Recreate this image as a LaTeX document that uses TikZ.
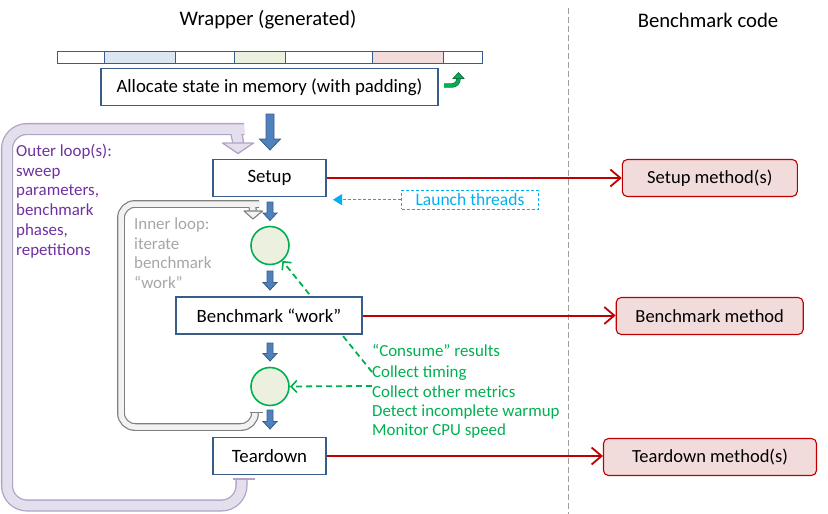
\documentclass[tikz,border=0pt]{standalone}
\usepackage{fontspec}
\setmainfont{Carlito}
\usetikzlibrary{arrows.meta,backgrounds}
\definecolor{boxblue}{HTML}{385D8A}
\definecolor{arrblue}{HTML}{4F81BD}
\definecolor{cgreen}{HTML}{00B050}
\definecolor{dgreen}{HTML}{107040}
\definecolor{cfill}{HTML}{EBF1DE}
\definecolor{cred}{HTML}{C00000}
\definecolor{mfill}{HTML}{F2DCDB}
\definecolor{pband}{HTML}{E4DFEC}
\definecolor{pborder}{HTML}{B3A2C7}
\definecolor{ptext}{HTML}{7030A0}
\definecolor{gband}{HTML}{F2F2F2}
\definecolor{gborder}{HTML}{7F7F7F}
\definecolor{gtext}{HTML}{A6A6A6}
\definecolor{cyantwo}{HTML}{00B0F0}
\definecolor{memblue}{HTML}{DCE6F2}
\definecolor{memgreen}{HTML}{EBF1DE}
\definecolor{mempink}{HTML}{F2DCDB}
\tikzset{
  pics/downarrow/.style n args={4}{code={
    \draw[blockarr] (-#2,0) -- (#2,0) -- (#2,#1-#4) -- (#3,#1-#4) -- (0,#1)
      -- (-#3,#1-#4) -- (-#2,#1-#4) -- cycle;
  }}
}
\begin{document}
\begin{tikzpicture}[x=1pt,y=-1pt,
  txt/.style={font=\fontsize{16.9}{19.7}\selectfont},
  btxt/.style={font=\fontsize{18.8}{22}\selectfont},
  wbox/.style={btxt, draw=boxblue, line width=1.6pt, fill=white, minimum height=37pt, inner sep=0pt},
  mbox/.style={font=\fontsize{18.5}{22}\selectfont, draw=cred, line width=1.1pt, fill=mfill, rounded corners=5pt, minimum height=37pt, inner sep=0pt},
  circ/.style={circle, draw=cgreen, line width=1.6pt, fill=cfill, minimum size=38pt, inner sep=0pt},
  blockarr/.style={fill=arrblue, draw=boxblue, line width=0.8pt},
  redarr/.style={draw=cred, line width=2pt, -{Straight Barb[length=10pt,width=17pt,line width=1.8pt]}},
  greendash/.style={draw=cgreen, line width=1.8pt, dash pattern=on 6pt off 4pt, -{Straight Barb[length=6pt,width=12pt,line width=1.6pt]}},
  cyandash/.style={draw=cyantwo, line width=0.9pt, dash pattern=on 3pt off 2pt, -{Triangle[length=9pt,width=11pt]}},
  outerband/.style={draw=pborder, line width=1.3pt, double=pband, double distance=9.5pt},
  innerband/.style={draw=gborder, line width=1.2pt, double=gband, double distance=5.5pt},
  membar/.style={draw=boxblue, line width=0.8pt},
  title/.style={font=\fontsize{20.7}{24}\selectfont},
]
\useasboundingbox (0,0) rectangle (828,514);

% titles and separator
\node[title] (wtitle) at (268,20) {Wrapper (generated)};
\node[title] (btitle) at (708,20) {Benchmark code};
\draw[gray!75, line width=0.8pt, dash pattern=on 6pt off 3pt] (568,8) -- (568,514);

% memory bar
\fill[memblue] (104.3,51) rectangle (175.3,63.3);
\fill[memgreen] (234.3,51) rectangle (285.7,63.3);
\fill[mempink] (372.3,51) rectangle (443.3,63.3);
\draw[membar] (57.3,51) rectangle (482.3,63.3);
\foreach \xx in {104.3,175.3,234.3,285.7,372.3,443.3}
  \draw[membar] (\xx,51) -- (\xx,63.3);

% green bent arrow
\draw[draw=dgreen, double=cgreen, double distance=3pt, line width=0.7pt]
  (444,85.5) -- (452,85.5) to[out=0,in=-90] (458.5,79) -- (458.5,78.5);
\draw[draw=dgreen, fill=cgreen, line width=0.7pt] (453,78.5) -- (464,78.5) -- (458.5,72.5) -- cycle;

% boxes
\node[wbox, minimum width=337pt] (alloc) at (269.5,87) {Allocate state in memory (with padding)};
\node[wbox, minimum width=113pt] (setup) at (269.5,178) {Setup};
\node[circ] (c1) at (270,245.5) {};
\node[wbox, minimum width=186pt] (work) at (269,315.5) {Benchmark “work”};
\node[circ] (c2) at (270,386.5) {};
\node[wbox, minimum width=113pt] (tear) at (269.5,456) {Teardown};

\node[mbox, minimum width=175pt] (setupm) at (709.8,178) {Setup method(s)};
\node[mbox, minimum width=187pt] (benchm) at (709.7,316) {Benchmark method};
\node[mbox, minimum width=213pt] (tearm) at (710,457) {Teardown method(s)};

\node[font=\fontsize{17.5}{20}\selectfont, draw=cyantwo, line width=0.9pt, dash pattern=on 3pt off 2pt, text=cyantwo,
      minimum width=136.6pt, minimum height=19.3pt, inner sep=0pt] (launch) at (470,199.7) {Launch threads};

% block arrows
\pic at (270,114) {downarrow={36}{4}{10.5}{11}};
\pic at (270,202) {downarrow={18.5}{3}{7}{7.5}};
\pic at (270,271) {downarrow={19}{3}{7}{7.5}};
\pic at (270,343) {downarrow={18}{3}{7}{7.5}};
\pic at (270,410) {downarrow={19}{3}{7}{7.5}};

% red connectors
\draw[redarr] (setup.east) -- (setupm.west);
\draw[redarr] (work.east) -- (work.east -| benchm.west);
\draw[redarr] (tear.east) -- (tear.east -| tearm.west);

% cyan
\coordinate (lt) at (333,199.7);
\draw[cyandash] (launch.west) -- (lt);

% green text
\node[txt, text=cgreen, anchor=base west, inner sep=0pt] (g1) at (372,356.5) {“Consume” results};
\node[txt, text=cgreen, anchor=base west, inner sep=0pt] (g2) at (372,377.5) {Collect timing};
\node[txt, text=cgreen, anchor=base west, inner sep=0pt] (g3) at (372,397.5) {Collect other metrics};
\node[txt, text=cgreen, anchor=base west, inner sep=0pt] (g4) at (372,416.8) {Detect incomplete warmup};
\node[txt, text=cgreen, anchor=base west, inner sep=0pt] (g5) at (372,435.8) {Monitor CPU speed};
\coordinate (g2a) at (372,372);
\coordinate (g3a) at (372,386);
\begin{scope}[on background layer]
  \draw[greendash] (g2a) -- (c1);
\end{scope}
\draw[greendash] (g3a) -- (c2.east);

% outer loop band
\begin{scope}[on background layer]
\draw[outerband, rounded corners=20pt] (241.5,479) -- (241.5,505.5) -- (7,505.5) -- (7,129)
   -- (224,129) to[out=0,in=90] (238,143);
\end{scope}
\draw[draw=pborder, fill=pband, line width=1.3pt, line join=round] (222.5,143) -- (253.5,143) -- (238,153.5) -- cycle;
\draw[draw=pborder, line width=1.5pt] (233,479) -- (255,479);
\node[txt, text=ptext, align=left, anchor=north west, inner sep=0pt] (outertxt) at (16,144)
  {Outer loop(s):\\sweep\\parameters,\\benchmark\\phases,\\repetitions};

% inner loop band
\draw[innerband, rounded corners=14pt] (255,413) -- (255,427) -- (121,427) -- (121,204)
   -- (245,204) to[out=0,in=90] (253,211);
\draw[draw=gborder, fill=gband, line width=1.1pt, line join=round] (244,211) -- (262.5,211) -- (253,219) -- cycle;
\draw[draw=gborder, line width=1.3pt] (249.5,412.5) -- (262.5,412.5);
\node[txt, text=gtext, align=left, anchor=north west, inner sep=0pt] (innertxt) at (134,217.5)
  {Inner loop:\\iterate\\benchmark\\“work”};
\end{tikzpicture}
\end{document}
